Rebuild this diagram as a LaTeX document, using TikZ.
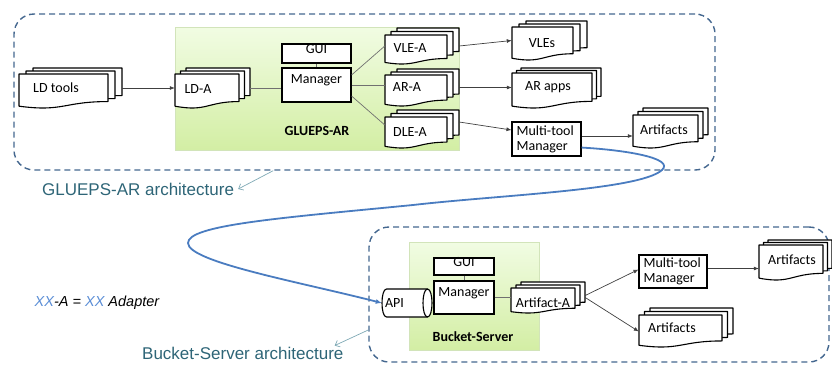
\documentclass[tikz,border=0pt]{standalone}
\usepackage{fontspec}
\setmainfont{Carlito}
\newfontfamily\arialfont{Liberation Sans}
\usetikzlibrary{arrows.meta,fit,calc}

\definecolor{dashblue}{HTML}{44678F}
\definecolor{curveblue}{HTML}{4A7CC0}
\definecolor{tealtext}{HTML}{2E6577}
\definecolor{tealarrow}{HTML}{7FA9B5}
\definecolor{greenA}{HTML}{F1FCE3}
\definecolor{greenB}{HTML}{D3EEA4}
\definecolor{greenedge}{HTML}{D2E4BA}
\definecolor{legendblue}{HTML}{5B8ED6}
\definecolor{linkgray}{HTML}{707070}

% A stack of three document sheets with wavy bottoms.
% #1 name, #2 left, #3 top, #4 right, #5 bottom (front sheet), #6 dx, #7 dy
\newcommand\DocStack[7]{%
  \foreach \k in {2,1,0}{%
    \pgfmathsetmacro\sl{#2+\k*#6}%
    \pgfmathsetmacro\st{#3-\k*#7}%
    \pgfmathsetmacro\sr{#4+\k*#6}%
    \pgfmathsetmacro\sh{(#5-#3)/0.987}%
    \pgfmathsetmacro\sm{(\sl+\sr)/2}%
    \filldraw[sheet] (\sl,\st) -- (\sr,\st) -- (\sr,\st+0.80*\sh)
      .. controls (\sm,\st+0.80*\sh) and (\sm,\st+1.107*\sh) .. (\sl,\st+0.934*\sh) -- cycle;
  }%
  \coordinate (#1-nw) at (#2,{#3-2*#7});%
  \coordinate (#1-se) at ({#4+2*#6},#5);%
  \node[fit=(#1-nw)(#1-se),inner sep=0pt] (#1) {};%
}

\tikzset{
  sheet/.style={fill=white,draw=black,line width=1.1pt,line join=round},
  frame/.style={draw=dashblue,line width=1.4pt,dash pattern=on 6pt off 4pt,rounded corners=20pt,inner sep=0pt},
  greenbox/.style={top color=greenA,bottom color=greenB,draw=greenedge,line width=0.8pt,inner sep=0pt},
  box/.style={draw=black,fill=white,line width=1.1pt,inner sep=0pt,font=\fontsize{14}{15}\selectfont},
  lbl/.style={inner sep=0pt,font=\fontsize{14}{15}\selectfont},
  boldlbl/.style={inner sep=0pt,font=\fontsize{14}{15}\selectfont\bfseries},
  archlbl/.style={inner sep=0pt,text=tealtext,font=\arialfont\fontsize{17}{19}\selectfont},
  legendlbl/.style={inner sep=0pt,font=\arialfont\itshape\fontsize{14.5}{16}\selectfont},
  link/.style={draw=linkgray,line width=0.7pt},
  arrowline/.style={draw=black!75,line width=0.7pt,-{Latex[length=5pt,width=4pt]}},
  pointer/.style={draw=tealarrow,line width=0.7pt,-{Straight Barb[length=4pt,width=7pt]}},
  bluecurve/.style={draw=curveblue,line width=1.8pt,-{Latex[length=6pt,width=5pt]}},
  cyl/.style={fill=white,draw=black,line width=1.1pt,line join=round},
}

\begin{document}
\begin{tikzpicture}[x=1pt,y=-1pt]
\useasboundingbox (0,0) rectangle (832,365);

% architecture frames
\node[frame,fit={(14,14) (715,170)}] (gframe) {};
\node[frame,fit={(369,227) (829,362)}] (bframe) {};

% component containers
\node[greenbox,fit={(175,27) (459,150)}] (gluepsbox) {};
\node[boldlbl] (gluepsname) at (317,131) {GLUEPS-AR};
\node[greenbox,fit={(409,242) (539,350)}] (bucketbox) {};
\node[boldlbl] (bucketname) at (473,337) {Bucket-Server};

% GLUEPS-AR side
\DocStack{ldtools}{19}{74}{108}{108}{7}{3}
\node[lbl] (ldtools-t) at (56,88) {LD tools};
\DocStack{lda}{175}{74}{239}{108}{5.5}{3}
\node[lbl] (lda-t) at (198,89) {LD-A};
\node[box,fit={(282,44) (351,63)}] (gui1) {GUI};
\node[box,fit={(282,68) (351,102)}] (mgr1) {Manager};
\DocStack{vlea}{385}{35}{447}{64}{6}{3.5}
\node[lbl] (vlea-t) at (410,48) {VLE-A};
\DocStack{ara}{385}{75}{447}{106}{6}{3}
\node[lbl] (ara-t) at (407,87) {AR-A};
\DocStack{dlea}{385}{117}{447}{148}{6}{3.5}
\node[lbl] (dlea-t) at (410,132) {DLE-A};
\DocStack{vles}{512}{27}{573}{60}{7}{3}
\node[lbl] (vles-t) at (542,43) {VLEs};
\DocStack{arapps}{512}{73}{592}{108}{4.5}{2.5}
\node[lbl] (arapps-t) at (548,87) {AR apps};
\node[box,fit={(512,122) (581,156)}] (mtm1) {};
\node[lbl,align=left,anchor=west] (mtm1-t) at ([xshift=5pt]mtm1.west) {Multi-tool\\Manager};
\DocStack{artifacts1}{633}{115}{698}{148}{5}{3.5}
\node[lbl] (artifacts1-t) at (664,130) {Artifacts};

% Bucket-Server side
\node[box,fit={(434,258) (494,275)}] (gui2) {GUI};
\node[box,fit={(434,281) (494,314)}] (mgr2) {Manager};
% API drawn as a horizontal cylinder (left cap half hidden, right cap visible)
\filldraw[cyl] (386.5,289) -- (427.5,289) -- (427.5,317) -- (386.5,317)
  .. controls (380.5,317) and (380.5,289) .. (386.5,289) -- cycle;
\draw[cyl] (427.5,289) .. controls (421.5,289) and (421.5,317) .. (427.5,317)
  .. controls (433.5,317) and (433.5,289) .. (427.5,289) -- cycle;
\node[fit={(382,289) (432,317)},inner sep=0pt] (api) {};
\node[lbl,anchor=west] (api-t) at ([xshift=3pt]api.west) {API};
\DocStack{artifacta}{511}{288}{575}{313}{5}{3}
\node[lbl] (artifacta-t) at (543,303) {Artifact-A};
\node[box,fit={(639,255) (707,288)}] (mtm2) {};
\node[lbl,align=left,anchor=west] (mtm2-t) at ([xshift=5pt]mtm2.west) {Multi-tool\\Manager};
\DocStack{artifacts2}{639}{315}{722}{347}{5.5}{3.5}
\node[lbl] (artifacts2-t) at (672,328) {Artifacts};
\DocStack{artifacts3}{759}{245}{823}{280}{4.5}{2.5}
\node[lbl] (artifacts3-t) at (792,260) {Artifacts};

% connectors, GLUEPS-AR
\draw[arrowline] (ldtools) -- (lda);
\draw[link] (lda.east) -- (lda.east -| mgr1.west);
\draw[link] (gui1) -- (mgr1);
\draw[link] ([yshift=10pt]mgr1.east) -- (vlea.west);
\draw[link] (mgr1.east) -- (mgr1.east -| ara.west);
\draw[link] ([yshift=-11pt]mgr1.east) -- ([yshift=4pt]dlea.west);
\draw[arrowline] (vlea.east) -- (vles.west);
\draw[arrowline] (ara.east) -- (ara.east -| arapps.west);
\draw[arrowline] ([yshift=7pt]dlea.east) -- ([yshift=9pt]mtm1.west);
\coordinate (m1out) at ($(mtm1.east)+(0,-3)$);
\draw[arrowline] (m1out) -- (m1out -| artifacts1.west);

% connectors, Bucket-Server
\draw[link] (gui2) -- (mgr2);
\draw[link] (mgr2.east) -- (mgr2.east -| artifacta.west);
\draw[arrowline] ([yshift=2pt]artifacta.east) -- ([yshift=2pt]mtm2.west);
\draw[arrowline] (artifacta.east) -- ([yshift=-4pt]artifacts2.west);
\coordinate (m2out) at ($(mtm2.east)+(0,-3)$);
\draw[arrowline] (m2out) -- (m2out -| artifacts3.west);

% link between the two architectures
\draw[bluecurve] ($(mtm1.south east)+(0,-9)$)
  .. controls (625,150) and (675,158) .. (662,170)
  .. controls (640,190) and (500,195) .. (413,205)
  .. controls (280,218) and (188,225) .. (188,243)
  .. controls (188,262) and (300,282) .. (api.west);

% captions
\node[archlbl,anchor=west] (glabel) at (42,189) {GLUEPS-AR architecture};
\node[archlbl,anchor=west] (blabel) at (142,353) {Bucket-Server architecture};
\draw[pointer] ($(gframe.south west)!0.37!(gframe.south east)$) -- ([xshift=4pt]glabel.east);
\draw[pointer] ($(bframe.north west)!0.76!(bframe.south west)$) -- ($(blabel.north east)+(-9,-1)$);
\node[legendlbl] (legend) at (97,303) {\textcolor{legendblue}{XX}-A = \textcolor{legendblue}{XX} Adapter};
\end{tikzpicture}
\end{document}
